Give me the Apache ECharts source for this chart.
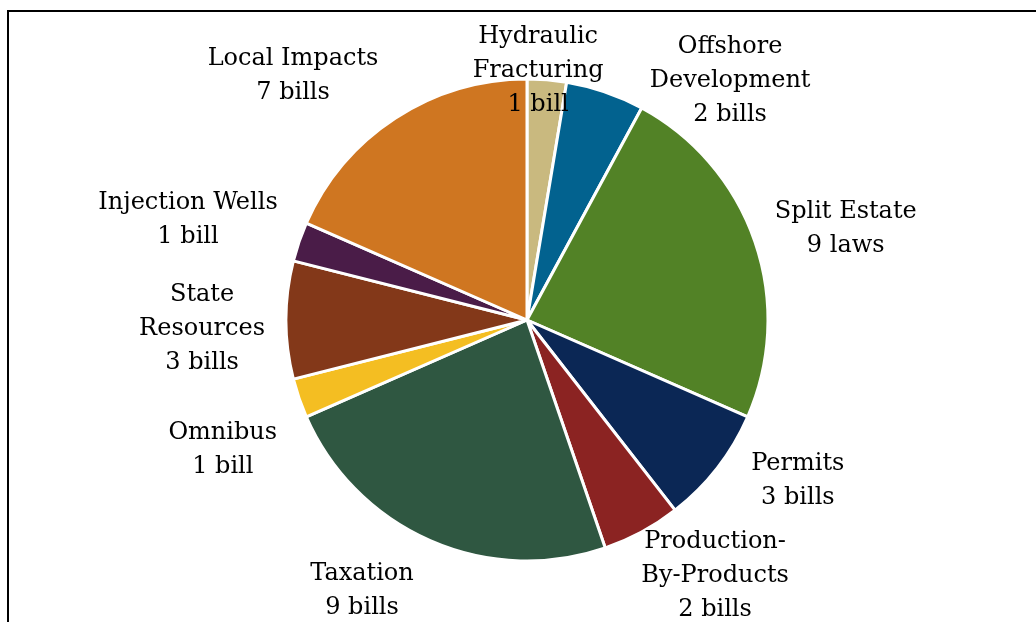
<!DOCTYPE html>
<html>
<head>
<meta charset="utf-8">
<script src="https://cdn.jsdelivr.net/npm/echarts@6/dist/echarts.min.js"></script>
<style>
html,body{margin:0;padding:0;background:#fff;}
#frame{position:absolute;left:7px;top:10px;width:1040px;height:640px;border:2px solid #000;box-sizing:border-box;}
#chart{position:absolute;left:0;top:0;width:1036px;height:622px;}
</style>
</head>
<body>
<div id="frame"></div>
<div id="chart"></div>
<script>
const categories = ['Hydraulic\nFracturing','Offshore\nDevelopment','Split Estate','Permits','Production-\nBy-Products','Taxation','Omnibus','State\nResources','Injection Wells','Local Impacts'];
const counts = [1,2,9,3,2,9,1,3,1,7];
const units = ['bill','bills','laws','bills','bills','bills','bill','bills','bill','bills'];
const colors = ['#C9B97F','#02628F','#528226','#0B2755','#8B2322','#2F5741','#F4BE22','#833819','#4A1C48','#CF7621'];

// label placement (polar: angle offset from slice mid-angle in degrees, distance from centre in px)
const labelAngleShift = [-2.2, 21.2, 2.7, -7.5, -8.1, 7.9, -3.85, -1.2, -2.2, -10.4];
const labelDist = [251, 315, 332, 314, 316, 315, 330, 325, 354, 339.5];

const CX = 527, CY = 320, R = 241;
const total = counts.reduce((a,b)=>a+b,0);
const midAngles = [];
{ let acc = 0; counts.forEach(v => { midAngles.push((acc + v/2)/total*360); acc += v; }); }

const chart = echarts.init(document.getElementById('chart'));
chart.setOption({
  animation:false,
  series:[{
    type:'pie',
    center:[CX, CY],
    radius:[0, R],
    startAngle:90,
    clockwise:true,
    avoidLabelOverlap:false,
    itemStyle:{borderColor:'#fff', borderWidth:3},
    label:{
      show:true,
      position:'outside',
      formatter: p => p.name + '\n' + counts[p.dataIndex] + ' ' + units[p.dataIndex],
      fontFamily:'DejaVu Serif',
      fontSize:24,
      lineHeight:34,
      color:'#000',
      align:'center'
    },
    labelLine:{show:false},
    labelLayout: function(params){
      const i = params.dataIndex;
      const a = (midAngles[i] + labelAngleShift[i]) * Math.PI/180;
      return {
        x: CX + labelDist[i]*Math.sin(a),
        y: CY - labelDist[i]*Math.cos(a) + 2,
        align:'center',
        verticalAlign:'middle'
      };
    },
    data: categories.map((c,i)=>({name:c, value:counts[i], itemStyle:{color:colors[i]}}))
  }]
});
</script>
</body>
</html>
